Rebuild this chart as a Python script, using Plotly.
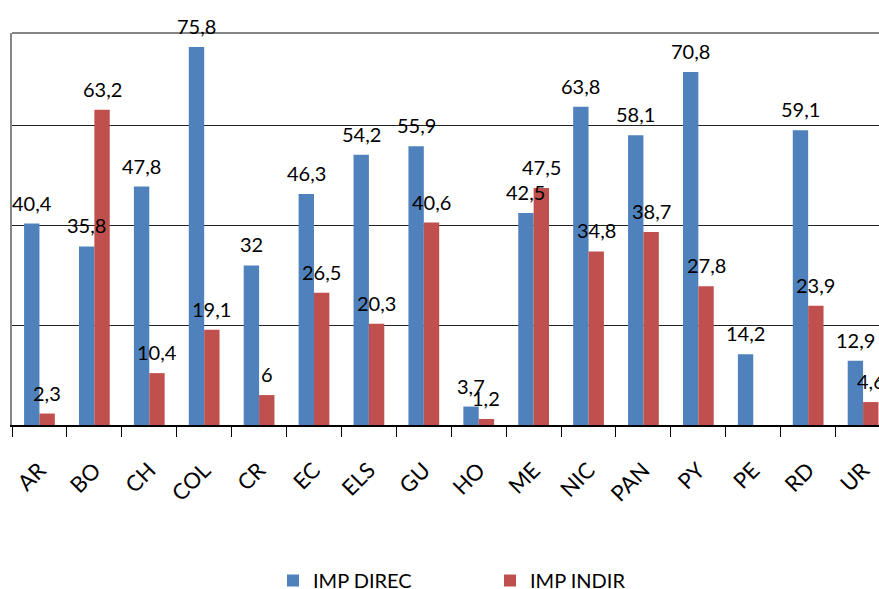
import plotly.graph_objects as go

categories = ["AR", "BO", "CH", "COL", "CR", "EC", "ELS", "GU", "HO", "ME", "NIC", "PAN", "PY", "PE", "RD", "UR"]
imp_direc = [40.4, 35.8, 47.8, 75.8, 32, 46.3, 54.2, 55.9, 3.7, 42.5, 63.8, 58.1, 70.8, 14.2, 59.1, 12.9]
imp_indir = [2.3, 63.2, 10.4, 19.1, 6, 26.5, 20.3, 40.6, 1.2, 47.5, 34.8, 38.7, 27.8, None, 23.9, 4.6]
series_names = ["IMP DIREC", "IMP INDIR"]
colors = ["#4F81BD", "#C0504D"]

FONT = "Lato"

def fmt(v):
    return f"{v:g}".replace(".", ",")

fig = go.Figure()
for name, vals, col in zip(series_names, [imp_direc, imp_indir], colors):
    fig.add_trace(go.Bar(x=categories, y=vals, name=name, marker=dict(color=col, line=dict(width=0))))

annotations = []
bar_px = 15.5
for vals, shift in [(imp_direc, -bar_px / 2), (imp_indir, bar_px / 2)]:
    for c, v in zip(categories, vals):
        if v is None:
            continue
        annotations.append(dict(x=c, y=v, xref="x", yref="y", text=fmt(v), showarrow=False,
                                xshift=shift, yshift=21, yanchor="middle",
                                font=dict(family=FONT, size=20, color="#000")))

H = 600
plot_top, plot_bottom = 33, 425
plot_h = plot_bottom - plot_top

fig.update_layout(
    width=879, height=H,
    margin=dict(l=12, r=0, t=plot_top, b=H - plot_bottom, pad=0),
    paper_bgcolor="white", plot_bgcolor="white",
    barmode="group", bargap=0.44, bargroupgap=0,
    font=dict(family=FONT, size=20, color="#000"),
    annotations=annotations,
    shapes=[dict(type="line", xref="paper", yref="paper", x0=0, x1=1, y0=1, y1=1,
                 line=dict(color="#868686", width=2))],
    showlegend=True,
    legend=dict(orientation="h", x=(273 - 12) / 867, xanchor="left",
                y=-(581 - plot_bottom) / plot_h, yanchor="middle",
                entrywidth=172, entrywidthmode="pixels",
                font=dict(family=FONT, size=20, color="#000"),
                bgcolor="rgba(0,0,0,0)"),
)
fig.update_xaxes(range=[-0.5, 15.29], tickangle=-45, ticks="outside", ticklen=10, tickcolor="#000",
                 tickson="boundaries", showline=True, linecolor="#000", linewidth=1.5,
                 showgrid=False, ticklabelstandoff=22, tickfont=dict(family=FONT, size=22, color="#000"))
fig.update_yaxes(range=[0, 78.6], dtick=20, showticklabels=False, showgrid=True, gridcolor="#222",
                 gridwidth=1, zeroline=False, showline=True, linecolor="#868686", linewidth=2,
                 mirror=False, ticks="")

fig.write_html("out.html", config={"displayModeBar": False},
               post_script="document.documentElement.style.overflow='hidden';"
                           "document.body.style.margin='0';document.body.style.overflow='hidden';")
